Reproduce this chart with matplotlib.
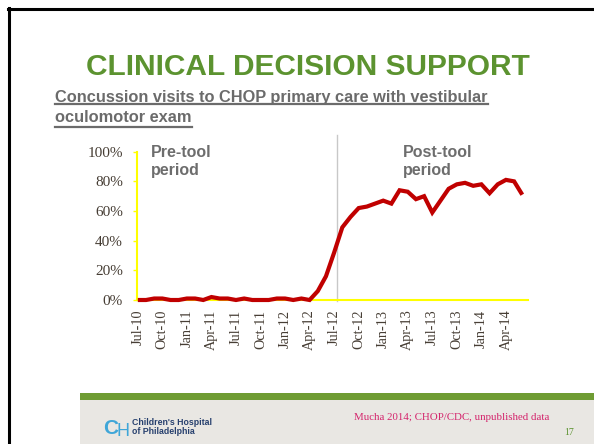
import matplotlib
matplotlib.use("Agg")
import matplotlib.pyplot as plt
from matplotlib.lines import Line2D
from matplotlib.patches import Rectangle

# monthly share of concussion visits with vestibular oculomotor exam, Jul-10 .. Jun-14
pct = [0, 0, 1, 1, 0, 0, 1, 1, 0, 2, 1, 1,
       0, 1, 0, 0, 0, 1, 1, 0, 1, 0, 6, 16,
       32, 49, 56, 62, 63, 65, 67, 65, 74, 73, 68, 70,
       59, 67, 75, 78, 79, 77, 78, 72, 78, 81, 80, 71]
tick_labels = ['Jul-10', 'Oct-10', 'Jan-11', 'Apr-11', 'Jul-11', 'Oct-11', 'Jan-12', 'Apr-12',
               'Jul-12', 'Oct-12', 'Jan-13', 'Apr-13', 'Jul-13', 'Oct-13', 'Jan-14', 'Apr-14']
y_ticks = [0, 20, 40, 60, 80, 100]
tool_start = 24.4  # divider just after Jul-12

W, H = 594, 444
fx = lambda px: px / W
fy = lambda py: 1 - py / H

fig = plt.figure(figsize=(5.94, 4.44), dpi=100)
fig.patch.set_facecolor('white')

# slide frame
fig.add_artist(Line2D([fx(8.5), fx(8.5)], [fy(8), fy(444)], color='black', lw=2.2))
fig.add_artist(Line2D([fx(7.5), fx(594)], [fy(9.5), fy(9.5)], color='black', lw=2.2))

# title and subtitle
fig.text(fx(308), fy(75), 'CLINICAL DECISION SUPPORT', ha='center', va='baseline',
         fontsize=21.5, fontweight='bold', color='#5c9330', family='Liberation Sans')
sub1 = fig.text(fx(55), fy(101.7), 'Concussion visits to CHOP primary care with vestibular',
                ha='left', va='baseline', fontsize=11.75, fontweight='bold', color='#6b6b6b',
                family='Liberation Sans')
sub2 = fig.text(fx(55), fy(121.7), 'oculomotor exam', ha='left', va='baseline',
                fontsize=11.75, fontweight='bold', color='#6b6b6b', family='Liberation Sans')

# chart
ax = fig.add_axes([fx(137), fy(300), fx(528) - fx(137), fy(151.7) - fy(300)])
x = list(range(len(pct)))
ax.plot(x, [v / 100 for v in pct], color='#c00000', lw=3, solid_joinstyle='miter',
        solid_capstyle='butt', zorder=5, clip_on=False)
ax.axvline(tool_start, ymin=-0.01, ymax=1.11, color='#c8c8c8', lw=1, clip_on=False, zorder=1)

ax.set_xlim(-0.1, 47.7)
ax.set_ylim(0, 1)
ax.set_xticks(range(0, len(tick_labels) * 3, 3))
ax.set_xticklabels(tick_labels, rotation=90, family='Liberation Serif', fontsize=10.3,
                   color='#463d34')
ax.set_yticks([v / 100 for v in y_ticks])
ax.set_yticklabels([f'{v}%' for v in y_ticks], family='Liberation Serif', fontsize=11,
                   color='#463d34')
ax.tick_params(axis='x', length=0, pad=7)
ax.tick_params(axis='y', length=3, width=1, color='#ffff00', pad=7)
for s in ['top', 'right']:
    ax.spines[s].set_visible(False)
for s in ['left', 'bottom']:
    ax.spines[s].set_color('#ffff00')
    ax.spines[s].set_linewidth(1.5)
ax.patch.set_alpha(0)

fig.text(fx(151), fy(145), 'Pre-tool\nperiod', ha='left', va='top', fontsize=11.5,
         fontweight='bold', color='#6d6d6d', family='Liberation Sans', linespacing=1.25)
fig.text(fx(402.5), fy(145), 'Post-tool\nperiod', ha='left', va='top', fontsize=11.5,
         fontweight='bold', color='#6d6d6d', family='Liberation Sans', linespacing=1.25)

# footer
fig.add_artist(Rectangle((fx(80), fy(444)), fx(594) - fx(80), fy(400) - fy(444),
                         transform=fig.transFigure, color='#e9e7e3', lw=0))
fig.add_artist(Rectangle((fx(80), fy(400)), fx(594) - fx(80), fy(392.5) - fy(400),
                         transform=fig.transFigure, color='#6f9c34', lw=0))
fig.text(fx(103), fy(434), 'C', ha='left', va='baseline', fontsize=15, fontweight='bold',
         color='#3fa6d8', family='Liberation Sans')
fig.text(fx(117), fy(436), 'H', ha='left', va='baseline', fontsize=13,
         color='#3fa6d8', family='Liberation Sans')
fig.text(fx(132), fy(427), "Children's Hospital\nof Philadelphia", ha='left', va='center',
         fontsize=6.3, fontweight='bold', color='#27406e', family='Liberation Sans',
         linespacing=1.05)
fig.text(fx(354), fy(419.5), 'Mucha 2014; CHOP/CDC, unpublished data', ha='left', va='baseline',
         fontsize=7.8, color='#d4246c', family='Liberation Serif')
fig.text(fx(569), fy(435), '17', ha='center', va='baseline', fontsize=7,
         color='#5c9330', family='Liberation Serif')

# underline the subtitle
fig.canvas.draw()
r = fig.canvas.get_renderer()
for t, uy in [(sub1, 104.5), (sub2, 127.2)]:
    bb = t.get_window_extent(r)
    fig.add_artist(Line2D([bb.x0 / W, bb.x1 / W], [fy(uy), fy(uy)], color='#6b6b6b', lw=1.6))

fig.savefig('out.png', dpi=100)
